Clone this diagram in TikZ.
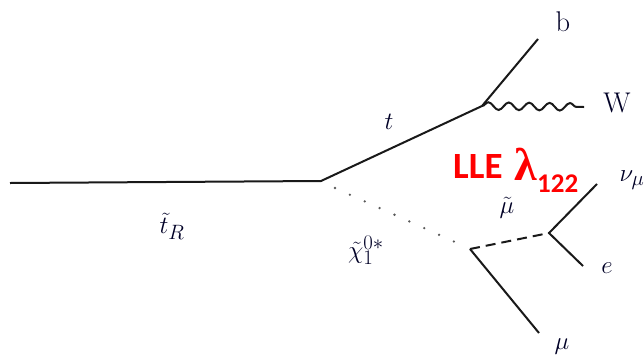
\documentclass[tikz,border=0pt]{standalone}
\usepackage{fontspec}
\newfontfamily\calib{Carlito}
\newfontfamily\grk{Liberation Serif}
\usetikzlibrary{decorations.pathmorphing}
\begin{document}
\begin{tikzpicture}[x=1pt,y=-1pt,
  prop/.style={line width=2pt, draw=black!90},
  lab/.style={font=\fontsize{28.5}{32}\selectfont, text=black!85!blue},
  wig/.style={prop, decorate, decoration={snake, segment length=20.4pt, amplitude=3.8pt}},
  dotline/.style={line width=2.6pt, draw=black!65, line cap=round, dash pattern=on 0pt off 16.3pt},
  dashline/.style={prop, dash pattern=on 10pt off 6pt}]
\useasboundingbox (0,0) rectangle (644,362);
\coordinate (a) at (10,183);
\coordinate (v1) at (321,181);
\coordinate (v2) at (482,106);
\coordinate (b) at (538,39);
\coordinate (w) at (584,107);
\coordinate (d1) at (335,188);
\coordinate (d2) at (455.5,242.2);
\coordinate (v3) at (470,249);
\coordinate (v4) at (549,233);
\coordinate (nu) at (597,184);
\coordinate (e) at (583,266);
\coordinate (mu) at (539,333);
\draw[prop] (a) -- (v1) -- (v2) -- (b);
\draw[wig] (v2) -- (w);
\draw[dotline] (d1) -- (d2);
\draw[dashline] (v3) -- (v4);
\draw[prop] (nu) -- (v4) -- (e);
\draw[prop] (v3) -- (mu);
\node[lab] (lb) at (563,22) {b};
\node[lab] (lw) at (617,103) {W};
\node[lab] (lt) at (389,122) {$t$};
\node[lab] (ltr) at (172,226) {$\tilde{t}_R$};
\node[lab] (lchi) at (366,250) {$\tilde{\chi}_1^{0*}$};
\node[lab] (lsmu) at (507,208) {$\tilde{\mu}$};
\node[lab] (lnu) at (632,180) {$\nu_\mu$};
\node[lab] (le) at (607,268) {$e$};
\node[lab] (lmu) at (562,347) {$\mu$};
\node[text=red, font=\calib\bfseries\fontsize{37}{40}\selectfont, inner sep=0pt, anchor=base west] (lle) at (453,178) {LLE\hspace{12pt}\raisebox{-2pt}{\grk\fontsize{46}{48}\selectfont λ}\raisebox{-14pt}{\fontsize{27}{30}\selectfont 122}};
\end{tikzpicture}
\end{document}
